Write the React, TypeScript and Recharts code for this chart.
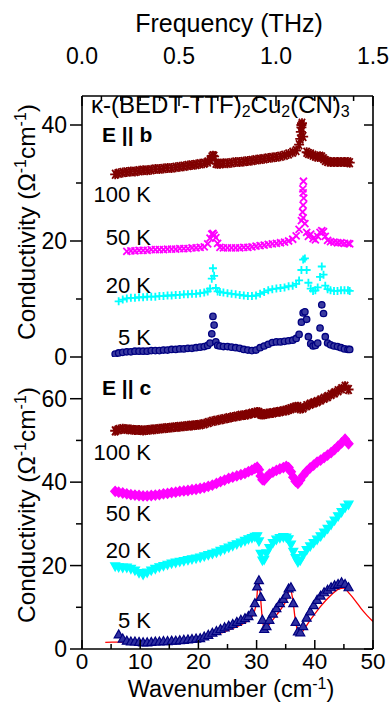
import React from 'react';
import { ComposedChart, Scatter, Line, XAxis, YAxis } from 'recharts';

const FONT = '"Liberation Sans", Arial, Helvetica, sans-serif';

// ---- E || b panel (top) ----
const wnB = [
  5.7, 6.3, 7.0, 7.7, 8.4, 9.1, 9.8, 10.5, 11.2, 11.9, 12.6, 13.3, 14.0, 14.7, 15.4, 16.1, 16.8, 17.5,
  18.2, 18.9, 19.6, 20.3, 21.0, 21.6, 22.0, 22.3, 22.5, 22.7, 23.0, 23.3, 23.7, 24.3, 25.0, 25.7, 26.4,
  27.1, 27.8, 28.5, 29.2, 29.9, 30.6, 31.3, 32.0, 32.7, 33.4, 34.1, 34.8, 35.5, 36.2, 36.8, 37.3, 37.7,
  38.0, 38.3, 38.6, 38.9, 39.3, 39.7, 40.1, 40.5, 40.9, 41.2, 41.5, 41.8, 42.2, 42.7, 43.3, 43.9, 44.5,
  45.1, 45.7, 46.0,
];
const b5K = [
  0.5, 0.7, 0.8, 0.9, 0.9, 1.0, 1.0, 1.0, 1.0, 1.1, 1.1, 1.1, 1.2, 1.2, 1.3, 1.3, 1.4, 1.4,
  1.5, 1.5, 1.6, 1.7, 1.8, 2.0, 2.4, 4.0, 7.0, 5.5, 2.6, 2.0, 1.9, 1.8, 1.8, 1.7, 1.6,
  1.5, 1.3, 1.2, 1.1, 1.2, 1.6, 1.9, 2.2, 2.5, 2.6, 2.6, 2.7, 2.8, 2.9, 3.2, 3.9, 6.0,
  7.6, 7.8, 6.5, 3.5, 2.3, 1.9, 2.0, 2.4, 5.0, 9.0, 7.5, 3.5, 2.4, 2.1, 1.9, 1.8, 1.6,
  1.4, 1.3, 1.3,
];
const b20K = [
  null, 9.6, 9.9, 10.1, 10.2, 10.2, 10.3, 10.3, 10.4, 10.4, 10.4, 10.5, 10.5, 10.6, 10.6, 10.7, 10.7, 10.8,
  10.8, 10.9, 10.9, 11.0, 11.1, 11.3, 11.8, 13.5, 15.3, 14.0, 11.9, 11.3, 11.2, 11.1, 11.0, 10.9, 10.8,
  10.7, 10.6, 10.5, 10.5, 10.6, 10.9, 11.2, 11.5, 11.7, 11.8, 11.9, 12.0, 12.2, 12.3, 12.6, 13.2, 15.0,
  16.8, 17.0, 15.0, 12.8, 11.8, 11.4, 11.5, 12.0, 13.8, 15.6, 14.2, 12.3, 11.7, 11.5, 11.4, 11.4, 11.5,
  11.5, 11.5, 11.4,
];
const b50K = [
  null, null, null, 18.2, 18.3, 18.3, 18.4, 18.4, 18.4, 18.5, 18.5, 18.5, 18.5, 18.6, 18.6, 18.6, 18.7, 18.7,
  18.7, 18.8, 18.8, 18.9, 19.0, 19.5, 20.5, 21.2, 21.3, 21.0, 20.6, 19.6, 18.9, 18.8, 18.8, 18.8, 18.8,
  18.8, 18.9, 18.9, 19.0, 19.1, 19.2, 19.3, 19.4, 19.5, 19.6, 19.7, 19.8, 20.0, 20.3, 20.9, 22.0, 23.5,
  24.0, 23.0, 21.5, 20.8, 21.2, 20.4, 20.2, 20.8, 21.5, 21.8, 21.6, 20.8, 20.1, 19.9, 19.8, 19.7, 19.7,
  19.6, 19.6, 19.5,
];
const b50SpikeX = [37.9, 38.0, 38.1, 38.0, 37.95, 38.05];
const b50SpikeY = [25.0, 26.2, 27.4, 28.3, 29.0, 30.3];
const b100K = [
  31.5, 31.7, 31.8, 31.9, 32.0, 32.0, 32.1, 32.2, 32.2, 32.3, 32.4, 32.4, 32.5, 32.6, 32.6, 32.7, 32.8, 32.9,
  33.0, 33.1, 33.2, 33.3, 33.4, 33.6, 34.0, 34.5, 34.7, 34.6, 33.4, 33.3, 33.3, 33.4, 33.4, 33.5, 33.6,
  33.6, 33.7, 33.8, 33.9, 34.0, 34.1, 34.2, 34.3, 34.4, 34.5, 34.6, 34.8, 35.0, 35.3, 35.6, 36.6, 40.0,
  38.0, null, 35.3, 35.1, 35.0, 34.8, 34.6, 34.5, 34.6, 34.5, 34.2, 33.9, 33.7, 33.6, 33.6, 33.6, 33.6,
  33.6, 33.6, 33.5,
];
const b100SpikeX = [37.5, 37.6, 37.7, 37.8];
const b100SpikeY = [37.6, 38.8, 39.6, 40.3];

// ---- E || c panel (bottom) ----
const wnC = [
  5.7, 6.3, 7.0, 7.7, 8.4, 9.1, 9.8, 10.5, 11.2, 11.9, 12.6, 13.3, 14.0, 14.7, 15.4, 16.1, 16.8, 17.5,
  18.2, 18.9, 19.6, 20.3, 21.0, 21.7, 22.4, 23.1, 23.8, 24.5, 25.2, 25.9, 26.6, 27.3, 28.0, 28.6, 29.2,
  29.7, 30.1, 30.4, 30.7, 31.0, 31.3, 31.7, 32.2, 32.8, 33.4, 34.0, 34.6, 35.1, 35.5, 35.9, 36.3, 36.7,
  37.1, 37.5, 38.0, 38.6, 39.2, 39.8, 40.4, 41.0, 41.6, 42.2, 42.8, 43.4, 44.0, 44.6, 45.2, 45.8,
];
const c5K = [
  null, 3.5, 2.5, 2.0, 1.8, 1.8, 1.7, 1.6, 1.6, 1.7, 1.8, 1.8, 1.9, 1.9, 2.0, 2.0, 2.1, 2.2,
  2.3, 2.4, 2.5, 2.6, 3.0, 3.4, 3.9, 4.3, 4.8, 5.2, 5.6, 6.0, 6.5, 7.0, 7.4, 7.9, 8.8,
  11.0, 15.0, 16.5, 12.5, 7.0, 4.8, 5.5, 7.0, 8.5, 9.8, 11.0, 12.0, 13.0, 14.5, 14.8, 11.0, 6.5,
  4.2, 4.0, 5.5, 7.5, 9.0, 10.5, 11.8, 12.8, 13.6, 14.2, 14.8, 15.3, 15.6, 16.0, 15.6, 14.8,
];
const c20K = [
  19.8, 19.6, 19.5, 19.5, 19.2, 18.8, 18.2, 17.8, 18.3, 18.8, 19.2, 19.6, 19.9, 20.2, 20.5, 20.7, 20.9, 21.1,
  21.3, 21.5, 21.7, 21.9, 22.2, 22.5, 22.8, 23.1, 23.5, 23.9, 24.3, 24.7, 25.1, 25.5, 25.9, 26.3, 26.6,
  26.9, 27.0, 25.8, 22.8, 21.2, 21.4, 22.9, 24.2, 25.4, 26.2, 26.6, 26.8, 26.7, 26.3, 25.0, 23.3, 21.8,
  20.8, 21.2, 22.5, 23.7, 24.6, 25.4, 26.2, 27.0, 27.9, 28.8, 29.8, 30.8, 31.8, 32.8, 33.9, 34.6,
];
const c50K = [
  37.8, 37.6, 37.4, 37.2, 37.0, 36.9, 36.8, 36.7, 36.7, 36.8, 36.9, 37.0, 37.2, 37.3, 37.5, 37.6, 37.8, 37.9,
  38.0, 38.2, 38.3, 38.5, 38.7, 39.0, 39.3, 39.7, 40.1, 40.5, 40.9, 41.2, 41.5, 41.8, 42.1, 42.5, 42.9,
  43.3, 43.6, 43.0, 41.5, 40.6, 40.5, 41.2, 41.9, 42.4, 42.8, 43.2, 43.5, 43.8, 43.5, 42.5, 41.2, 40.2,
  39.7, 40.5, 41.6, 42.6, 43.4, 44.1, 44.8, 45.3, 45.9, 46.5, 47.1, 47.8, 48.6, 49.4, 50.3, 49.2,
];
const c100K = [
  52.3, 52.6, 52.8, 52.7, 52.6, 52.5, 52.5, 52.4, 52.5, 52.6, 52.7, 52.8, 52.9, 53.0, 53.1, 53.2, 53.3, 53.4,
  53.5, 53.6, 53.7, 53.8, 54.0, 54.3, 54.6, 54.8, 55.0, 55.2, 55.4, 55.6, 55.8, 56.0, 56.1, 56.3, 56.5,
  56.6, 56.8, 56.7, 56.3, 56.2, 56.3, 56.4, 56.5, 56.6, 56.8, 56.9, 57.1, 57.2, 57.4, 57.6, 57.8, 58.0,
  58.1, 57.6, 57.8, 58.3, 58.7, 59.0, 59.3, 59.7, 60.1, 60.5, 61.0, 61.4, 61.9, 62.4, 63.0, 62.2,
];
const fitX = [
  4, 6, 8, 10, 12, 14, 16, 18, 20, 21, 22, 23, 24, 25, 26, 27, 28, 29, 29.5, 30, 30.3, 30.6, 31, 31.3,
  31.8, 32.5, 33.5, 34.5, 35.2, 35.7, 36.2, 36.7, 37.2, 37.6, 38.2, 39, 40, 41, 42, 43, 44, 45, 46, 47,
  48, 49, 50,
];
const fitY = [
  1.6, 1.65, 1.7, 1.75, 1.8, 1.9, 2.0, 2.1, 2.3, 2.6, 3.0, 3.4, 3.9, 4.4, 5.0, 5.6, 6.3, 7.4, 8.5, 11.5,
  16.5, 13.5, 7.0, 5.0, 5.3, 6.5, 8.3, 10.2, 12.0, 14.7, 12.0, 6.5, 4.0, 3.8, 4.8, 6.5, 8.4, 10.2, 11.8,
  13.2, 14.3, 14.6, 13.2, 11.5, 9.6, 8.0, 6.6,
];

const wnTicks = [0, 5, 10, 15, 20, 25, 30, 35, 40, 45, 50];
const thzTicks = [0, 0.1, 0.2, 0.3, 0.4, 0.5, 0.6, 0.7, 0.8, 0.9, 1.0, 1.1, 1.2, 1.3, 1.4, 1.5];
const yTicksB = [0, 10, 20, 30, 40];
const yTicksC = [0, 10, 20, 30, 40, 50, 60];

const pts = (xs: number[], ys: (number | null)[]) =>
  xs.map((x, i) => ({ x, y: ys[i] })).filter((p) => p.y != null);

const NAVY = '#000080';
const CYAN = '#00FFFF';
const MAGENTA = '#FF00FF';
const DARKRED = '#800000';

const noShape = () => <g />;
const circleShape = (p: any) => (
  <circle cx={p.cx} cy={p.cy} r={3.2} fill="#3a3aa0" stroke={NAVY} strokeWidth={1.3} />
);
const plusShape = (p: any) => (
  <path d={`M${p.cx - 4},${p.cy}h8M${p.cx},${p.cy - 4}v8`} stroke={CYAN} strokeWidth={1.8} />
);
const crossShape = (p: any) => (
  <path d={`M${p.cx - 3.5},${p.cy - 3.5}l7,7M${p.cx - 3.5},${p.cy + 3.5}l7,-7`} stroke={MAGENTA} strokeWidth={1.8} />
);
const starShape = (p: any) => (
  <path
    d={`M${p.cx - 5},${p.cy}h10M${p.cx - 3},${p.cy - 4.5}l6,9M${p.cx - 3},${p.cy + 4.5}l6,-9M${p.cx},${p.cy - 5}v10`}
    stroke={DARKRED}
    strokeWidth={1.8}
  />
);
const triUp = (p: any) => (
  <path d={`M${p.cx},${p.cy - 4.5}L${p.cx + 4.5},${p.cy + 3.5}L${p.cx - 4.5},${p.cy + 3.5}Z`} fill="#3030a0" stroke={NAVY} strokeWidth={1.2} />
);
const triDown = (p: any) => (
  <path d={`M${p.cx},${p.cy + 4.5}L${p.cx + 4.5},${p.cy - 3.5}L${p.cx - 4.5},${p.cy - 3.5}Z`} fill={CYAN} stroke={CYAN} strokeWidth={1.2} />
);
const diamond = (p: any) => (
  <path d={`M${p.cx},${p.cy - 5}L${p.cx + 4.5},${p.cy}L${p.cx},${p.cy + 5}L${p.cx - 4.5},${p.cy}Z`} fill={MAGENTA} stroke={MAGENTA} strokeWidth={1.2} />
);
const starC = (p: any) => (
  <path
    d={`M${p.cx - 5},${p.cy}h10M${p.cx - 3},${p.cy - 4.5}l6,9M${p.cx - 3},${p.cy + 4.5}l6,-9M${p.cx},${p.cy - 5}v10`}
    stroke={DARKRED}
    strokeWidth={2}
  />
);

const AX = { stroke: '#000', strokeWidth: 1.6 };

const leftTick = (majors: number[]) => (p: any) => {
  const v = p.payload.value;
  const big = majors.includes(v);
  return (
    <g>
      <line x1={p.x - (big ? 12 : 6)} x2={p.x} y1={p.y} y2={p.y} stroke="#000" strokeWidth={1.5} />
      {big && (
        <text x={p.x - 15} y={p.y + 8} textAnchor="end" fontSize={23} fontFamily={FONT} fill="#000">
          {v}
        </text>
      )}
    </g>
  );
};
const rightTick = (majors: number[]) => (p: any) => {
  const big = majors.includes(p.payload.value);
  return <line x1={p.x - (big ? 9 : 5)} x2={p.x} y1={p.y} y2={p.y} stroke="#000" strokeWidth={1.5} />;
};
const bottomTick = (labels: boolean) => (p: any) => {
  const v = p.payload.value;
  const big = v % 10 === 0;
  return (
    <g>
      <line x1={p.x} x2={p.x} y1={p.y - (big ? 9 : 5)} y2={p.y} stroke="#000" strokeWidth={1.5} />
      {labels && big && (
        <text x={p.x} y={p.y + 20} textAnchor="middle" fontSize={22.5} fontFamily={FONT} fill="#000">
          {v}
        </text>
      )}
    </g>
  );
};
const topWnTick = (p: any) => {
  const big = p.payload.value % 10 === 0;
  return <line x1={p.x} x2={p.x} y1={p.y} y2={p.y + (big ? 9 : 5)} stroke="#000" strokeWidth={1.5} />;
};
const thzTick = (p: any) => {
  const v = p.payload.value;
  const big = Math.abs(v * 2 - Math.round(v * 2)) < 1e-6;
  return (
    <g>
      <line x1={p.x} x2={p.x} y1={p.y} y2={p.y + (big ? 10 : 5)} stroke="#000" strokeWidth={1.5} />
      {big && (
        <text x={p.x} y={p.y - 32} textAnchor="middle" fontSize={23} fontFamily={FONT} fill="#000">
          {v.toFixed(1)}
        </text>
      )}
    </g>
  );
};

const YTitle = ({ cy }: { cy: number }) => (
  <text transform={`translate(35,${cy}) rotate(-90)`} textAnchor="middle" fontSize={24.5} fontFamily={FONT} fill="#000">
    Conductivity (Ω<tspan dy={-9} fontSize={16}>-1</tspan>
    <tspan dy={9}>cm</tspan>
    <tspan dy={-9} fontSize={16}>-1</tspan>
    <tspan dy={9}>)</tspan>
  </text>
);

const tLabel = (txt: string, y: number) => (
  <text key={txt + y} x={151} y={y} textAnchor="end" fontSize={22} fontFamily={FONT} fill="#000">
    {txt}
  </text>
);

export default function App() {
  return (
    <div style={{ position: 'absolute', left: 0, top: 0, width: 389, height: 705, background: '#fff' }}>
      <div style={{ position: 'absolute', left: 0, top: 0 }}>
        <ComposedChart width={389} height={375} margin={{ top: 56, right: 0, bottom: 18, left: 0 }}>
          <XAxis
            dataKey="x"
            type="number"
            domain={[0, 50]}
            ticks={wnTicks}
            interval={0}
            allowDataOverflow
            height={0}
            axisLine={AX}
            tickLine={false}
            tickSize={0}
            tickMargin={0}
            tick={bottomTick(false)}
          />
          <XAxis
            xAxisId="f"
            dataKey="x"
            orientation="top"
            type="number"
            domain={[0, 1.5]}
            ticks={thzTicks}
            interval={0}
            allowDataOverflow
            height={40}
            axisLine={AX}
            tickLine={false}
            tickSize={0}
            tickMargin={0}
            tick={thzTick}
          />
          <YAxis
            dataKey="y"
            type="number"
            domain={[0, 45]}
            ticks={yTicksB}
            interval={0}
            allowDataOverflow
            width={82}
            axisLine={AX}
            tickLine={false}
            tickSize={0}
            tickMargin={0}
            tick={leftTick([0, 20, 40])}
          />
          <YAxis
            yAxisId="r"
            dataKey="y"
            orientation="right"
            type="number"
            domain={[0, 45]}
            ticks={yTicksB}
            interval={0}
            allowDataOverflow
            width={16}
            axisLine={AX}
            tickLine={false}
            tickSize={0}
            tickMargin={0}
            tick={rightTick([0, 20, 40])}
          />
          <Scatter xAxisId="f" yAxisId="r" data={pts(wnB, b5K)} shape={noShape} isAnimationActive={false} />
          <Scatter data={pts(wnB, b100K)} shape={starShape} isAnimationActive={false} />
          <Scatter data={pts(b100SpikeX, b100SpikeY)} shape={starShape} isAnimationActive={false} />
          <Scatter data={pts(wnB, b50K)} shape={crossShape} isAnimationActive={false} />
          <Scatter data={pts(b50SpikeX, b50SpikeY)} shape={crossShape} isAnimationActive={false} />
          <Scatter data={pts(wnB, b20K)} shape={plusShape} isAnimationActive={false} />
          <Scatter data={pts(wnB, b5K)} shape={circleShape} isAnimationActive={false} />
        </ComposedChart>
      </div>
      <div style={{ position: 'absolute', left: 0, top: 350 }}>
        <ComposedChart width={389} height={355} margin={{ top: 7, right: 0, bottom: 0, left: 0 }}>
          <XAxis
            dataKey="x"
            type="number"
            domain={[0, 50]}
            ticks={wnTicks}
            interval={0}
            allowDataOverflow
            height={56}
            axisLine={AX}
            tickLine={false}
            tickSize={0}
            tickMargin={0}
            tick={bottomTick(true)}
          />
          <XAxis
            xAxisId="t"
            dataKey="x"
            orientation="top"
            type="number"
            domain={[0, 50]}
            ticks={wnTicks}
            interval={0}
            allowDataOverflow
            height={0}
            axisLine={AX}
            tickLine={false}
            tickSize={0}
            tickMargin={0}
            tick={topWnTick}
          />
          <YAxis
            dataKey="y"
            type="number"
            domain={[0, 70]}
            ticks={yTicksC}
            interval={0}
            allowDataOverflow
            width={82}
            axisLine={AX}
            tickLine={false}
            tickSize={0}
            tickMargin={0}
            tick={leftTick([0, 20, 40, 60])}
          />
          <YAxis
            yAxisId="r"
            dataKey="y"
            orientation="right"
            type="number"
            domain={[0, 70]}
            ticks={yTicksC}
            interval={0}
            allowDataOverflow
            width={16}
            axisLine={AX}
            tickLine={false}
            tickSize={0}
            tickMargin={0}
            tick={rightTick([0, 20, 40, 60])}
          />
          <Scatter xAxisId="t" yAxisId="r" data={pts(wnC, c5K)} shape={noShape} isAnimationActive={false} />
          <Scatter data={pts(wnC, c100K)} shape={starC} isAnimationActive={false} />
          <Scatter data={pts(wnC, c50K)} shape={diamond} isAnimationActive={false} />
          <Scatter data={pts(wnC, c20K)} shape={triDown} isAnimationActive={false} />
          <Scatter data={pts(wnC, c5K)} shape={triUp} isAnimationActive={false} />
          <Line
            data={pts(fitX, fitY)}
            dataKey="y"
            type="monotone"
            stroke="#FF0000"
            strokeWidth={1.3}
            dot={false}
            isAnimationActive={false}
          />
        </ComposedChart>
      </div>
      <svg
        width={389}
        height={705}
        style={{ position: 'absolute', left: 0, top: 0, pointerEvents: 'none' }}
      >
        <text x={229} y={32} textAnchor="middle" fontSize={25} fontFamily={FONT} fill="#000">
          Frequency (THz)
        </text>
        <text x={231} y={697} textAnchor="middle" fontSize={23.5} fontFamily={FONT} fill="#000">
          Wavenumber (cm<tspan dy={-8} fontSize={16}>-1</tspan>
          <tspan dy={8}>)</tspan>
        </text>
        <YTitle cy={222} />
        <YTitle cy={505} />
        <text x={91} y={113} fontSize={24} fontFamily={FONT} fill="#000">
          κ-(BEDT-TTF)<tspan dy={4} fontSize={16}>2</tspan>
          <tspan dy={-4}>Cu</tspan>
          <tspan dy={4} fontSize={16}>2</tspan>
          <tspan dy={-4}>(CN)</tspan>
          <tspan dy={4} fontSize={16}>3</tspan>
        </text>
        <text x={102} y={142} fontSize={21} fontWeight="bold" fontFamily={FONT} fill="#000">
          E || b
        </text>
        <text x={102} y={395} fontSize={21} fontWeight="bold" fontFamily={FONT} fill="#000">
          E || c
        </text>
        {tLabel('100 K', 202)}
        {tLabel('50 K', 245)}
        {tLabel('20 K', 293)}
        {tLabel('5 K', 345)}
        {tLabel('100 K', 460)}
        {tLabel('50 K', 521)}
        {tLabel('20 K', 558)}
        {tLabel('5 K', 628)}
      </svg>
    </div>
  );
}
